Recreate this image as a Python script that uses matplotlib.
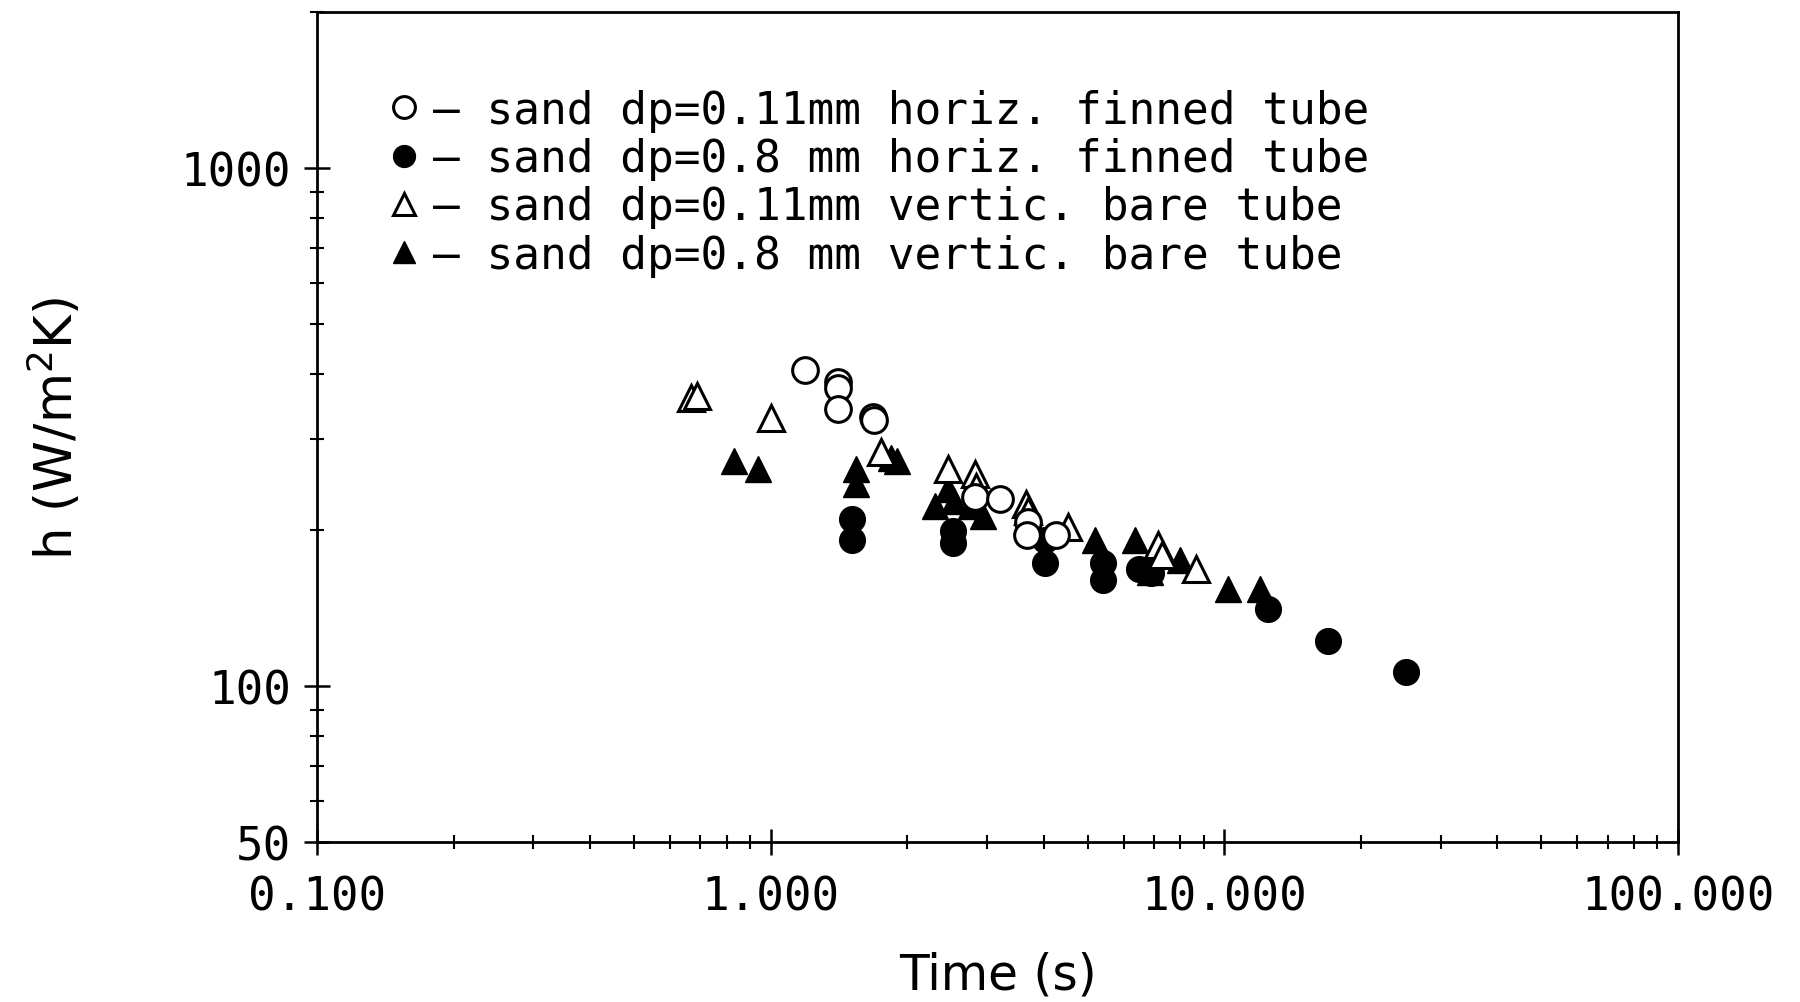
import matplotlib
matplotlib.use("Agg")
import matplotlib.pyplot as plt
from matplotlib.ticker import FixedLocator, LogLocator, NullFormatter, FixedFormatter

# ---- data ----
t_open_circ = [1.19, 1.41, 1.41, 1.41, 1.68, 1.69, 2.82, 3.21, 3.70, 3.67, 4.26]
h_open_circ = [408, 386, 376, 342, 331, 326, 232, 230, 207, 196, 196]

t_fill_circ = [1.51, 1.51, 2.52, 2.52, 4.02, 4.02, 5.40, 5.40, 6.50, 6.90, 12.5, 16.9, 25.1]
h_fill_circ = [210, 191, 199, 189, 191, 173, 173, 160, 168, 165, 141, 122, 106.6]

t_open_tri = [0.669, 0.689, 1.004, 1.754, 2.46, 2.82, 2.83, 3.66, 3.69, 4.52, 7.14, 7.28, 8.67]
h_open_tri = [360, 363, 329, 283, 262, 257, 242, 225, 218, 203, 187, 179, 168]

t_fill_tri = [0.829, 0.938, 1.54, 1.54, 1.84, 1.90, 2.30, 2.46, 2.53, 2.76, 2.94,
              5.18, 6.34, 6.85, 7.97, 10.2, 12.0]
h_fill_tri = [272, 262, 262, 245, 276, 272, 223, 240, 228, 223, 213,
              191, 191, 166, 175, 154, 154]

labels = ["\u2013 sand dp=0.11mm horiz. finned tube",
          "\u2013 sand dp=0.8 mm horiz. finned tube",
          "\u2013 sand dp=0.11mm vertic. bare tube",
          "\u2013 sand dp=0.8 mm vertic. bare tube"]

x_ticks = [0.1, 1, 10, 100]
x_ticklabels = ["0.100", "1.000", "10.000", "100.000"]
y_ticks = [50, 100, 1000]
y_ticklabels = ["50", "100", "1000"]

# ---- figure ----
plt.rcParams['font.family'] = ['DejaVu Sans']
fig = plt.figure(figsize=(18, 10.03), dpi=100)
ax = fig.add_axes([0.1761, 0.1595, 0.9322 - 0.1761, 0.987 - 0.1595])

ms = 18.5
mew = 2.2
h1, = ax.plot(t_fill_tri, h_fill_tri, linestyle='none', marker='^', ms=ms,
              mfc='black', mec='black', mew=1.0, zorder=3)
h2, = ax.plot(t_fill_circ, h_fill_circ, linestyle='none', marker='o', ms=ms,
              mfc='black', mec='black', mew=1.0, zorder=3)
h3, = ax.plot(t_open_tri, h_open_tri, linestyle='none', marker='^', ms=ms,
              mfc='white', mec='black', mew=mew, zorder=4)
h4, = ax.plot(t_open_circ, h_open_circ, linestyle='none', marker='o', ms=ms,
              mfc='white', mec='black', mew=mew, zorder=4)

ax.set_xscale('log')
ax.set_yscale('log')
ax.set_xlim(0.1, 100)
ax.set_ylim(50, 2000)

ax.xaxis.set_major_locator(FixedLocator(x_ticks))
ax.xaxis.set_major_formatter(FixedFormatter(x_ticklabels))
ax.xaxis.set_minor_locator(LogLocator(base=10, subs=range(2, 10)))
ax.xaxis.set_minor_formatter(NullFormatter())
ax.yaxis.set_major_locator(FixedLocator(y_ticks))
ax.yaxis.set_major_formatter(FixedFormatter(y_ticklabels))
ax.yaxis.set_minor_locator(LogLocator(base=10, subs=range(2, 10)))
ax.yaxis.set_minor_formatter(NullFormatter())

ax.tick_params(which='major', direction='inout', length=19, width=1.8,
               top=False, right=False)
ax.tick_params(which='minor', direction='inout', length=10, width=1.5,
               top=False, right=False)
ax.tick_params(axis='x', which='major', pad=14)
ax.tick_params(axis='y', which='major', pad=9)
for lab in ax.get_xticklabels() + ax.get_yticklabels():
    lab.set_fontfamily('DejaVu Sans Mono')
    lab.set_fontsize(33)

for s in ax.spines.values():
    s.set_linewidth(2.0)

ax.set_xlabel("Time (s)", fontsize=35, labelpad=22)
ax.set_ylabel(r"h (W/m$^{\mathregular{2}}$K)", fontsize=37, labelpad=70)

leg = ax.legend([h4, h2, h3, h1], labels, loc='upper left',
                bbox_to_anchor=(0.041, 0.929), frameon=False,
                prop={'family': 'DejaVu Sans Mono', 'size': 32},
                handlelength=0.6, handletextpad=0.35, labelspacing=0.12,
                borderaxespad=0.0, markerscale=0.85)

fig.savefig("out.png", dpi=100, facecolor='white')
